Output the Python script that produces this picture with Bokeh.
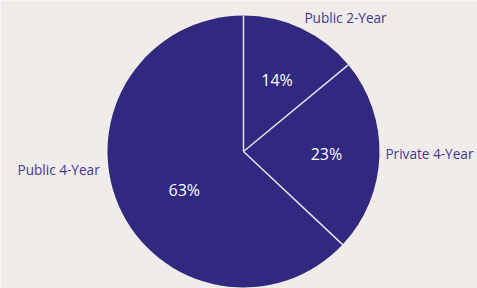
import math
from bokeh.plotting import figure
from bokeh.models import Range1d, ColumnDataSource
from bokeh.core.properties import value
from bokeh.embed import file_html
from bokeh.resources import INLINE

# ---- data ----
categories = ["Public 2-Year", "Private 4-Year", "Public 4-Year"]
shares = [14, 23, 63]
pct_labels = ["14%", "23%", "63%"]

# ---- style / layout ----
BG = "#efecea"
PIE = "#31287f"
LABEL = "#443898"
FONT = "Open Sans"
W, H = 477, 288
CX, CY, R = 243, -151, 136          # page coords (y negated)
pct_radius = [0.58, 0.61, 0.52]
pct_shift_deg = [0, 0, -9.7]
cat_align = ["left", "left", "right"]
cat_dx = [3, 6, -19]
cat_dy = [-11, -2, -36]

p = figure(width=W, height=H, output_backend="svg", toolbar_location=None,
           x_range=Range1d(0, W), y_range=Range1d(-H, 0),
           min_border=0)
p.axis.visible = False
p.grid.visible = False
p.outline_line_color = None
p.background_fill_color = BG
p.border_fill_color = BG

total = sum(shares)
cum = [0]
for s in shares:
    cum.append(cum[-1] + s / total)

starts = [math.pi / 2 - cum[i + 1] * 2 * math.pi for i in range(len(shares))]
ends = [math.pi / 2 - cum[i] * 2 * math.pi for i in range(len(shares))]
mids = [(cum[i] + cum[i + 1]) / 2 for i in range(len(shares))]

src = ColumnDataSource(dict(x=[CX] * len(shares), y=[CY] * len(shares),
                            start=starts, end=ends, cat=categories))
p.wedge(x="x", y="y", radius=R, start_angle="start", end_angle="end",
        direction="anticlock", fill_color=PIE, line_color=None, source=src)

# separator lines
bx, by = [], []
for i in range(len(shares)):
    a = math.pi / 2 - cum[i] * 2 * math.pi
    bx.append(CX + R * math.cos(a))
    by.append(CY + R * math.sin(a))
p.segment(x0=[CX] * len(bx), y0=[CY] * len(by), x1=bx, y1=by,
          line_color="#e6e3f0", line_width=1.5)

# percent labels
px, py = [], []
for i, m in enumerate(mids):
    a = math.pi / 2 - (m * 2 * math.pi + math.radians(pct_shift_deg[i]))
    px.append(CX + pct_radius[i] * R * math.cos(a))
    py.append(CY + pct_radius[i] * R * math.sin(a))
p.text(x=px, y=py, text=pct_labels, text_color="white",
       text_font=value(FONT), text_font_size="16px",
       text_align="center", text_baseline="middle")

# category labels
for i, m in enumerate(mids):
    a = math.pi / 2 - m * 2 * math.pi
    ex = CX + R * math.cos(a) + cat_dx[i]
    ey = CY + R * math.sin(a) - cat_dy[i]
    p.text(x=[ex], y=[ey], text=[categories[i]], text_color=LABEL,
           text_font=value(FONT), text_font_size="13.6px",
           text_align=cat_align[i], text_baseline="middle")

open("out.html", "w").write(file_html(p, INLINE))
